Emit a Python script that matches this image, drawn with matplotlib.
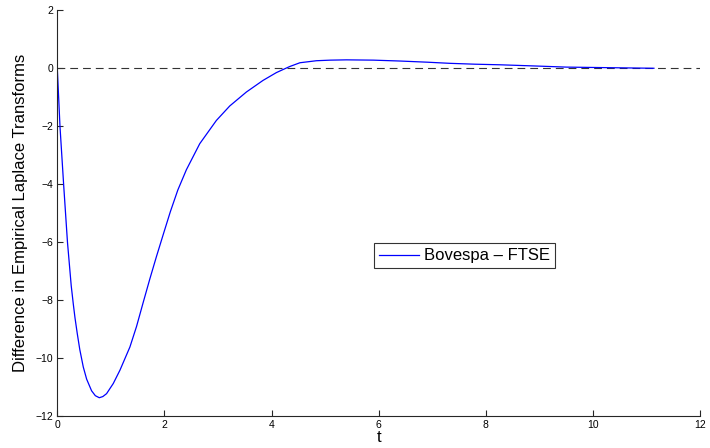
import matplotlib
matplotlib.use("Agg")
import matplotlib.pyplot as plt

plt.rcParams['font.family'] = ['Liberation Sans', 'DejaVu Sans']

t_vals = [0.0, 0.05, 0.118, 0.19, 0.26, 0.30, 0.33, 0.373, 0.42, 0.485, 0.548, 0.64,
          0.71, 0.784, 0.85, 0.92, 1.045, 1.17, 1.356, 1.48, 1.60, 1.73, 1.85, 1.98,
          2.11, 2.25, 2.41, 2.66, 2.97, 3.22, 3.53, 3.84, 4.09, 4.22, 4.34, 4.53, 4.84,
          5.1, 5.4, 5.9, 6.39, 6.9, 7.33, 7.8, 8.26, 8.9, 9.5, 10.3, 11.14]
diff_vals = [0.0, -2.0, -4.0, -6.0, -7.5, -8.15, -8.6, -9.15, -9.7, -10.3, -10.72, -11.12,
             -11.29, -11.36, -11.32, -11.22, -10.87, -10.41, -9.61, -8.9, -8.1, -7.25, -6.5, -5.72,
             -4.95, -4.2, -3.5, -2.6, -1.8, -1.3, -0.82, -0.42, -0.15, -0.04, 0.06, 0.19, 0.26,
             0.28, 0.29, 0.28, 0.25, 0.21, 0.17, 0.14, 0.12, 0.08, 0.04, 0.02, 0.0]
series_label = "Bovespa \u2013 FTSE"
x_ticks = [0, 2, 4, 6, 8, 10, 12]
y_ticks = [-12, -10, -8, -6, -4, -2, 0, 2]

fig = plt.figure(figsize=(7.1, 4.48), dpi=100)
ax = fig.add_axes([0.0807, 0.0708, 0.9052, 0.9063])

ax.plot([0, 12], [0, 0], color='#333333', lw=0.8, dashes=[7, 4.5])
ax.plot(t_vals, diff_vals, color='#0000ff', lw=0.9, label=series_label)

ax.set_xlim(0, 12)
ax.set_ylim(-12, 2)
ax.set_xticks(x_ticks)
ax.set_yticks(y_ticks)
for s in ['top', 'right']:
    ax.spines[s].set_visible(False)
for s in ['left', 'bottom']:
    ax.spines[s].set_linewidth(0.8)
    ax.spines[s].set_color('#262626')
ax.tick_params(direction='in', length=4, width=0.8, labelsize=7.5, colors='#262626',
               labelcolor='black', pad=3)
ax.set_xlabel('t', fontsize=12, labelpad=0)
ax.set_ylabel('Difference in Empirical Laplace Transforms', fontsize=12, labelpad=5)

leg = ax.legend(loc='center', bbox_to_anchor=(0.633, 0.395), fontsize=12, frameon=True,
                fancybox=False, edgecolor='black', handlelength=2.4, borderpad=0.3,
                handletextpad=0.3, borderaxespad=0)
leg.get_frame().set_linewidth(0.8)

fig.savefig('out.png', dpi=100)
